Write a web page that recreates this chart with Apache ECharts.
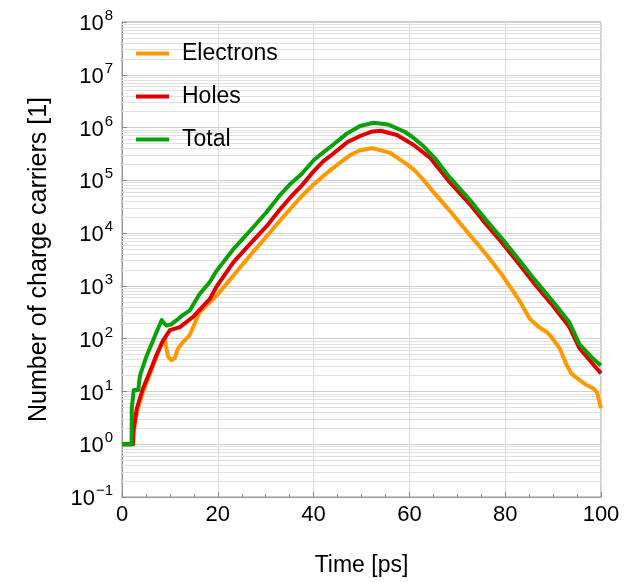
<!DOCTYPE html>
<html>
<head>
<meta charset="utf-8">
<script src="https://cdn.jsdelivr.net/npm/echarts@6/dist/echarts.min.js"></script>
<style>
  html, body { margin: 0; padding: 0; background: #fff; }
  #main { width: 637px; height: 582px; }
</style>
</head>
<body>
<div id="main"></div>
<script>
// values (time in ps, number of carriers)
var timeElectrons = [0, 2.3, 2.4, 3.1, 4.4, 5.8, 7.2, 8.3, 8.9, 9.6, 10.3, 11.0, 11.7, 12.8, 14.1, 16.2, 19.0, 19.7,
  23.2, 26.7, 30.2, 33.5, 37.2, 40, 42.5, 45, 47.5, 49.7, 52.3, 56, 59.5, 61, 63, 65, 68, 72, 76, 79, 82.7, 85.1,
  87, 88.6, 89.5, 91.4, 92.8, 93.8, 95, 97, 98.5, 99.2, 100];
var electrons = [1, 1, 1.6, 4, 10, 21, 45, 85, 100, 46, 39, 43, 65, 87, 115, 316, 560, 646,
  1550, 3720, 8710, 19500, 46800, 83200, 131800, 200000, 295000, 372000, 407000, 331000, 200000, 158000, 100000, 60300, 29500, 10700, 3980, 1780, 575, 240,
  166, 135, 112, 65, 32, 22, 17.8, 13.2, 11.2, 9.5, 4.8];

var timeHoles = [0, 2.3, 2.4, 3.1, 4.4, 5.8, 7.2, 8.6, 10.0, 12.1, 14.8, 18.3, 19.7, 23.2, 26.7, 30.2, 33, 35.1,
  37.5, 40, 42, 44, 47, 49.7, 52, 54, 57.4, 60.9, 64.4, 68, 72.6, 76, 79.5, 83, 86.4, 90, 93.4, 95.5, 98.3, 100];
var holes = [1, 1, 1.9, 4.8, 11.5, 23.4, 49, 93, 145, 166, 257, 560, 955, 2750, 6170, 13500, 28200, 46800,
  79400, 148000, 229000, 316000, 525000, 692000, 832000, 871000, 724000, 468000, 263000, 102000, 35500, 14800, 6310, 2510, 1020, 417, 166, 66, 33, 22];

var timeTotal = [0, 2.0, 2.05, 2.4, 2.45, 3.4, 3.75, 5.1, 6.5, 7.7, 8.3, 8.7, 9.3, 10.2, 11.4, 12.7, 14.1, 16.2, 18.3,
  19.7, 23.2, 26.7, 30.2, 33, 35, 37.5, 40, 42, 44, 47, 49.7, 52.5, 55.5, 59, 60.5, 63, 65.5, 68, 72.6, 76, 79.5,
  83, 86.4, 90, 93.4, 95.5, 98.3, 100];
var total = [1, 1, 4.8, 4.8, 10.7, 10.7, 20, 46, 93, 170, 224, 200, 178, 185, 224, 280, 339, 700, 1175,
  1905, 4900, 10960, 25100, 52500, 83200, 131800, 240000, 339000, 468000, 776000, 1072000, 1230000, 1148000, 832000, 676000, 437000, 251000, 126000, 42700, 17800, 7590,
  3020, 1230, 500, 204, 79, 42, 31];

var seriesNames = ['Electrons', 'Holes', 'Total'];
var seriesColors = ['#ff9900', '#e00000', '#0aa00a'];

function pairs(xs, ys) {
  var out = [];
  for (var i = 0; i < xs.length; i++) out.push([xs[i], ys[i]]);
  return out;
}

// minor horizontal grid lines at 2..9 x 10^n
var minorLines = [];
for (var e = -1; e < 8; e++) {
  for (var k = 2; k < 10; k++) minorLines.push({ yAxis: k * Math.pow(10, e) });
}

var font = 'Liberation Sans, Arial, Helvetica, sans-serif';
var chart = echarts.init(document.getElementById('main'));

chart.setOption({
  animation: false,
  backgroundColor: '#fff',
  textStyle: { fontFamily: font },
  grid: {
    left: 122, right: 36, top: 22, bottom: 83,
    show: true, borderColor: '#999', borderWidth: 1
  },
  legend: {
    data: seriesNames,
    orient: 'vertical',
    left: 131, top: 37,
    icon: 'rect',
    itemWidth: 33, itemHeight: 4, itemGap: 20,
    textStyle: { fontSize: 23, color: '#000', fontFamily: font, padding: [0, 0, 0, 8] }
  },
  xAxis: {
    type: 'value',
    min: 0, max: 100, interval: 20,
    name: 'Time [ps]',
    nameLocation: 'middle',
    nameGap: 57,
    nameTextStyle: { fontSize: 23, color: '#000', fontFamily: font },
    axisLine: { lineStyle: { color: '#999' } },
    axisTick: { inside: true, length: 5, lineStyle: { color: '#888' } },
    minorTick: { show: true, splitNumber: 4, length: 3, lineStyle: { color: '#888' } },
    axisLabel: { fontSize: 22, color: '#000', margin: 7, fontFamily: font },
    splitLine: { show: true, lineStyle: { color: '#dcdcdc' } }
  },
  yAxis: {
    type: 'log',
    logBase: 10,
    min: 0.1, max: 1e8, splitNumber: 9,
    name: 'Number of charge carriers [1]',
    nameLocation: 'middle',
    nameGap: 70,
    nameTextStyle: { fontSize: 25, color: '#000', fontFamily: font },
    axisLine: { show: true, lineStyle: { color: '#999' } },
    axisTick: { inside: true, length: 5, lineStyle: { color: '#888' } },
    axisLabel: {
      margin: 9,
      formatter: function (v) {
        var p = Math.round(Math.log(v) / Math.LN10);
        return '{b|10}{s|' + (p < 0 ? '\u2212' + (-p) : p) + '}';
      },
      rich: {
        b: { fontSize: 22, color: '#000', fontFamily: font, padding: [4, 0, 0, 0] },
        s: { fontSize: 15, color: '#000', fontFamily: font, padding: [0, 0, 12, 1] }
      }
    },
    splitLine: { show: true, lineStyle: { color: '#cfcfcf' } }
  },
  series: [
    {
      name: 'grid',
      type: 'line',
      data: [[0, 1]],
      symbol: 'none',
      silent: true,
      z: 1,
      lineStyle: { opacity: 0 },
      markLine: {
        silent: true,
        z: 1,
        symbol: 'none',
        animation: false,
        label: { show: false },
        lineStyle: { color: '#e0e0e0', width: 1, type: 'solid' },
        emphasis: { disabled: true },
        data: minorLines
      }
    },
    {
      name: seriesNames[0], type: 'line', data: pairs(timeElectrons, electrons),
      symbol: 'none', color: seriesColors[0], lineStyle: { width: 4, join: 'round' }, z: 3
    },
    {
      name: seriesNames[1], type: 'line', data: pairs(timeHoles, holes),
      symbol: 'none', color: seriesColors[1], lineStyle: { width: 4, join: 'round' }, z: 4
    },
    {
      name: seriesNames[2], type: 'line', data: pairs(timeTotal, total),
      symbol: 'none', color: seriesColors[2], lineStyle: { width: 4, join: 'round' }, z: 5
    }
  ]
});
</script>
</body>
</html>
